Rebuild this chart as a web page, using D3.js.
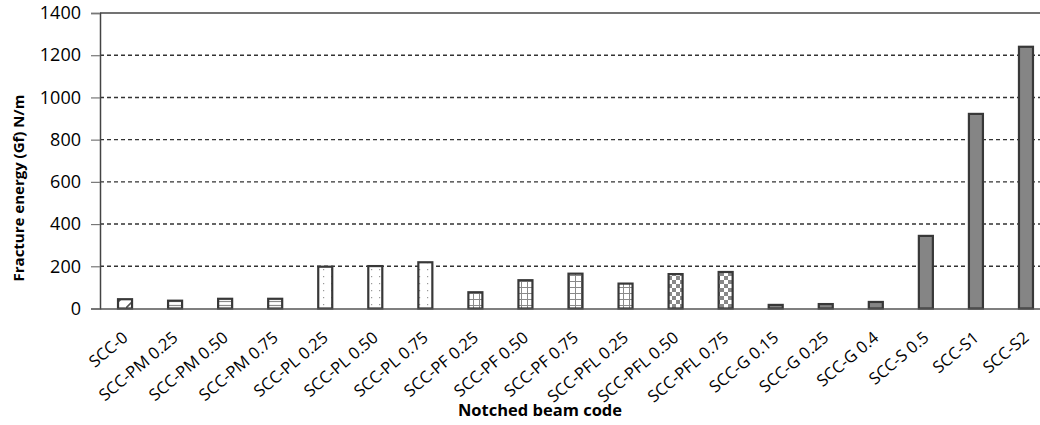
<!DOCTYPE html>
<html>
<head>
<meta charset="utf-8">
<script src="https://cdn.jsdelivr.net/npm/d3@7"></script>
<style>
  html, body { margin: 0; padding: 0; background: #fff; }
  svg { display: block; }
  text { font-family: "Open Sans", "Liberation Sans", sans-serif; fill: #000; }
</style>
</head>
<body>
<svg id="chart" width="1040" height="425"></svg>
<script>
// Notched beam fracture energy results
const beamCodes = [
  "SCC-0", "SCC-PM 0.25", "SCC-PM 0.50", "SCC-PM 0.75",
  "SCC-PL 0.25", "SCC-PL 0.50", "SCC-PL 0.75",
  "SCC-PF 0.25", "SCC-PF 0.50", "SCC-PF 0.75",
  "SCC-PFL 0.25", "SCC-PFL 0.50", "SCC-PFL 0.75",
  "SCC-G 0.15", "SCC-G 0.25", "SCC-G 0.4",
  "SCC-S 0.5", "SCC-S1", "SCC-S2"
];
const fractureEnergy = [
  44, 37, 46, 46,
  198, 201, 219,
  77, 134, 165,
  118, 163, 173,
  17, 21, 31,
  344, 922, 1240
];
// fibre family of each mix (selects the bar fill)
const fibreType = [
  "plain", "PM", "PM", "PM",
  "PL", "PL", "PL",
  "PF", "PF", "PF",
  "PF", "PFL", "PFL",
  "steel", "steel", "steel",
  "steel", "steel", "steel"
];
const yTicks = [0, 200, 400, 600, 800, 1000, 1200, 1400];

const svg = d3.select("#chart");
const plotLeft = 100, plotRight = 1051, plotTop = 13, plotBottom = 308.5;

// fill patterns
const defs = svg.append("defs");
const ink = "#8a8a8a";
const pDiag = defs.append("pattern").attr("id", "p-plain")
  .attr("patternUnits", "userSpaceOnUse").attr("width", 14).attr("height", 14);
pDiag.append("rect").attr("width", 14).attr("height", 14).attr("fill", "#fff");
pDiag.append("path").attr("d", "M0,14L14,0").attr("stroke", "#555").attr("stroke-width", 1.6);

const pH = defs.append("pattern").attr("id", "p-PM")
  .attr("patternUnits", "userSpaceOnUse").attr("width", 6).attr("height", 4);
pH.append("rect").attr("width", 6).attr("height", 4).attr("fill", "#fff");
pH.append("line").attr("x1", 0).attr("x2", 6).attr("y1", 1.5).attr("y2", 1.5)
  .attr("stroke", ink).attr("stroke-width", 1.2);

const pDot = defs.append("pattern").attr("id", "p-PL")
  .attr("patternUnits", "userSpaceOnUse").attr("width", 8).attr("height", 7);
pDot.append("rect").attr("width", 8).attr("height", 7).attr("fill", "#fff");
pDot.append("rect").attr("x", 3).attr("y", 3).attr("width", 1.2).attr("height", 1.2).attr("fill", "#999");

const pGrid = defs.append("pattern").attr("id", "p-PF")
  .attr("patternUnits", "userSpaceOnUse").attr("width", 6).attr("height", 6);
pGrid.append("rect").attr("width", 6).attr("height", 6).attr("fill", "#fff");
pGrid.append("path").attr("d", "M0,5.5H6M5.5,0V6").attr("stroke", ink).attr("stroke-width", 1);

const pChk = defs.append("pattern").attr("id", "p-PFL")
  .attr("patternUnits", "userSpaceOnUse").attr("width", 8).attr("height", 8);
pChk.append("rect").attr("width", 8).attr("height", 8).attr("fill", "#fff");
pChk.append("rect").attr("width", 4).attr("height", 4).attr("fill", "#888");
pChk.append("rect").attr("x", 4).attr("y", 4).attr("width", 4).attr("height", 4).attr("fill", "#888");

const fillFor = t => t === "steel" ? "#858585" : `url(#p-${t})`;

// scales
const x = d3.scaleBand().domain(beamCodes).range([plotLeft, plotRight])
  .paddingInner(0.72).paddingOuter(0.36);
const y = d3.scaleLinear().domain([0, 1400]).range([plotBottom, plotTop]);

// dashed gridlines
svg.append("g").selectAll("line")
  .data(yTicks.filter(v => v > 0 && v < 1400))
  .join("line")
  .attr("x1", plotLeft).attr("x2", plotRight)
  .attr("y1", d => y(d)).attr("y2", d => y(d))
  .attr("stroke", "#333").attr("stroke-width", 1.4)
  .attr("stroke-dasharray", "4,3");

// plot frame (top edge)
svg.append("line").attr("x1", plotLeft).attr("x2", plotRight)
  .attr("y1", y(1400)).attr("y2", y(1400))
  .attr("stroke", "#444").attr("stroke-width", 1.5);

// bars
svg.append("g").selectAll("rect")
  .data(beamCodes.map((c, i) => ({ code: c, v: fractureEnergy[i], t: fibreType[i] })))
  .join("rect")
  .attr("x", d => x(d.code))
  .attr("y", d => y(d.v))
  .attr("width", x.bandwidth())
  .attr("height", d => y(0) - y(d.v))
  .attr("fill", d => fillFor(d.t))
  .attr("stroke", "#383838")
  .attr("stroke-width", 2.2);

// y axis
const yAxis = d3.axisLeft(y).tickValues(yTicks).tickSize(9).tickPadding(10).tickFormat(d3.format("d"));
const gy = svg.append("g").attr("transform", `translate(${plotLeft},0)`).call(yAxis);
gy.select(".domain").attr("stroke", "#444").attr("stroke-width", 1.5);
gy.selectAll(".tick line").attr("stroke", "#777").attr("stroke-width", 1.2);
gy.selectAll(".tick text").attr("font-size", 18).attr("fill", "#111")
  .style("font-family", "'Open Sans', sans-serif");

// x axis
const xAxis = d3.axisBottom(x).tickSize(0).tickSizeOuter(0);
const gx = svg.append("g").attr("transform", `translate(0,${plotBottom})`).call(xAxis);
gx.select(".domain").attr("stroke", "#555").attr("stroke-width", 1.5);
gx.selectAll(".tick text")
  .attr("font-size", 16.5).attr("fill", "#111")
  .style("font-family", "'Open Sans', sans-serif")
  .attr("text-anchor", "end")
  .attr("dy", null).attr("y", 0)
  .attr("transform", "translate(4,31) rotate(-40)");

// axis titles
svg.append("text")
  .attr("transform", `translate(24,188) rotate(-90)`)
  .attr("text-anchor", "middle")
  .attr("font-size", 15).attr("font-weight", "bold")
  .text("Fracture energy (Gf) N/m");

svg.append("text")
  .attr("x", 540).attr("y", 416)
  .attr("text-anchor", "middle")
  .attr("font-size", 16.5).attr("font-weight", "bold")
  .text("Notched beam code");
</script>
</body>
</html>
